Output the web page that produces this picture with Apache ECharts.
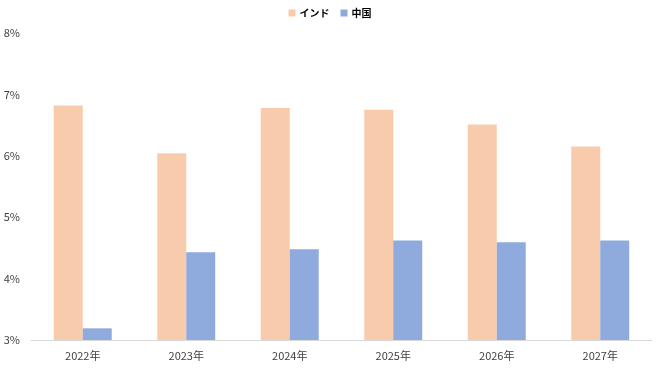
<!DOCTYPE html>
<html><head><meta charset="utf-8">
<script src="https://cdn.jsdelivr.net/npm/echarts@6/dist/echarts.min.js"></script>
<style>html,body{margin:0;padding:0;background:#fff}#c{width:660px;height:371px}</style>
</head><body><div id="c"></div>
<script>
const categories = ['2022年','2023年','2024年','2025年','2026年','2027年'];
const india = [6.82, 6.04, 6.78, 6.75, 6.51, 6.15];
const china = [3.19, 4.43, 4.48, 4.62, 4.59, 4.62];
const seriesNames = ['インド','中国'];
const font = '"Noto Sans CJK JP", "Noto Sans", sans-serif';
const chart = echarts.init(document.getElementById('c'));
chart.setOption({
  animation:false,
  textStyle:{fontFamily:font},
  legend:{top:3,left:'center',itemWidth:7,itemHeight:7,itemGap:11,icon:'rect',
    textStyle:{fontFamily:font,fontSize:10,fontWeight:'bold',color:'#000',padding:[0,0,0,-1]},
    data:seriesNames},
  grid:{left:31,right:8,top:33,bottom:31,containLabel:false},
  xAxis:{type:'category',data:categories,
    axisLine:{lineStyle:{color:'#D9D9D9'}},axisTick:{show:false},
    axisLabel:{color:'#404040',fontSize:11,margin:10,fontFamily:font}},
  yAxis:{type:'value',min:3,max:8,interval:1,
    axisLine:{show:false},axisTick:{show:false},splitLine:{show:false},
    axisLabel:{color:'#404040',fontSize:11,margin:11,formatter:v=>v+'%',fontFamily:font}},
  series:[
    {name:seriesNames[0],type:'bar',data:india,barWidth:'28%',barGap:'0%',itemStyle:{color:'#F8CBAD'}},
    {name:seriesNames[1],type:'bar',data:china,barWidth:'28%',itemStyle:{color:'#8FAADC'}}
  ]
});
</script></body></html>
